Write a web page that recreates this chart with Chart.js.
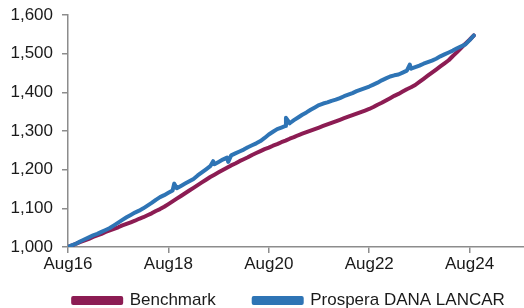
<!DOCTYPE html>
<html>
<head>
<meta charset="utf-8">
<script src="https://cdn.jsdelivr.net/npm/chart.js@4.4.1/dist/chart.umd.min.js"></script>
<style>
  html, body { margin: 0; padding: 0; background: #fff; }
  #wrap { width: 524px; height: 308px; }
</style>
</head>
<body>
<div id="wrap"><canvas id="chart"></canvas></div>
<script>
	// months since Aug16, one point per month (Aug16 .. Sep24)
	var months = [];
	for (var i = 0; i <= 97; i++) { months.push(i); }

	var tickMonths = [0, 24, 48, 72, 96];
	var tickLabels = ['Aug16', 'Aug18', 'Aug20', 'Aug22', 'Aug24'];

	var benchmark = [
		1000, 1004, 1009, 1013, 1017, 1021, 1026, 1030, 1034, 1039,
		1043, 1047, 1051, 1056, 1060, 1064, 1068, 1073, 1077, 1082,
		1087, 1093, 1098, 1104, 1111, 1118, 1125, 1132, 1139, 1146,
		1153, 1160, 1167, 1174, 1181, 1187, 1193, 1199, 1205, 1211,
		1216, 1222, 1227, 1232, 1238, 1243, 1248, 1253, 1257, 1262,
		1266, 1271, 1275, 1280, 1284, 1289, 1293, 1297, 1301, 1305,
		1309, 1313, 1317, 1321, 1325, 1329, 1333, 1337, 1341, 1345,
		1349, 1353, 1357, 1362, 1368, 1373, 1379, 1385, 1391, 1396,
		1402, 1408, 1413, 1419, 1427, 1435, 1443, 1451, 1459, 1467,
		1475, 1483, 1494, 1504, 1515, 1526, 1536, 1547
	];

	var danaLancar = [
		1000, 1005, 1009, 1015, 1020, 1025, 1030, 1034, 1039, 1044,
		1049, 1056, 1063, 1070, 1077, 1083, 1089, 1094, 1100, 1107,
		1114, 1122, 1129, 1134, 1140, 1146, 1152, 1158, 1164, 1170,
		1176, 1185, 1193, 1201, 1209, 1214, 1220, 1226, 1231, 1237,
		1242, 1247, 1252, 1258, 1263, 1268, 1274, 1282, 1291, 1298,
		1305, 1309, 1313, 1320, 1328, 1335, 1342, 1348, 1355, 1361,
		1367, 1371, 1374, 1378, 1381, 1385, 1390, 1394, 1398, 1403,
		1407, 1411, 1415, 1420, 1425, 1431, 1436, 1441, 1444, 1446,
		1451, 1456, 1461, 1465, 1469, 1474, 1478, 1482, 1487, 1493,
		1498, 1503, 1508, 1514, 1519, 1524, 1535, 1547
	];

	// one-day glitches in the fund line
	var spikeMonths = [25.4, 34.7, 38.3, 52.1, 81.7];
	var spikeValues = [1164, 1222, 1220, 1334, 1472];

	function toPoints(xs, ys)
	{
		var pts = [];
		for (var i = 0; i < xs.length; i++) { pts.push({x: xs[i], y: ys[i]}); }
		return pts;
	}

	var fundPoints = toPoints(months, danaLancar).concat(toPoints(spikeMonths, spikeValues));
	fundPoints.sort(function (a, b) { return a.x - b.x; });

	var axisColor = '#8c8c8c';
	var font = { family: 'Liberation Sans, Arial, sans-serif', size: 17 };

	new Chart(document.getElementById('chart'), {
		type: 'line',
		data: {
			datasets: [{
				label: 'Benchmark',
				data: toPoints(months, benchmark),
				borderColor: '#8c1c53',
				backgroundColor: '#8c1c53',
				borderWidth: 4,
				order: 1
			}, {
				label: 'Prospera DANA LANCAR',
				data: fundPoints,
				borderColor: '#2e74b5',
				backgroundColor: '#2e74b5',
				borderWidth: 4,
				order: 0
			}]
		},
		options: {
			responsive: true,
			maintainAspectRatio: false,
			animation: false,
			layout: { padding: { left: 0, right: 0, top: 15, bottom: -11 } },
			elements: {
				point: { radius: 0 },
				line: { tension: 0, borderJoinStyle: 'round', borderCapStyle: 'round' }
			},
			plugins: {
				tooltip: { enabled: false },
				legend: {
					position: 'bottom',
					align: 'end',
					labels: {
						boxWidth: 48,
						boxHeight: 5,
						padding: 5,
						color: '#1a1a1a',
						font: font,
						sort: function (a, b) { return a.datasetIndex - b.datasetIndex; },
						// trailing blanks space the two entries like the original
						generateLabels: function (chart) {
							var items = Chart.defaults.plugins.legend.labels.generateLabels(chart);
							items.forEach(function (it) {
								it.text = it.datasetIndex === 0 ? it.text + '       ' : it.text + '   ';
							});
							return items;
						}
					}
				}
			},
			scales: {
				x: {
					type: 'linear',
					min: 0,
					max: 109,
					afterBuildTicks: function (axis) {
						axis.ticks = tickMonths.map(function (m) { return { value: m }; });
					},
					afterFit: function (scale) { scale.height = 40; },
					ticks: {
						color: '#1a1a1a',
						font: font,
						padding: 1,
						maxRotation: 0,
						callback: function (v) {
							var k = tickMonths.indexOf(v);
							return k >= 0 ? tickLabels[k] : '';
						}
					},
					grid: { drawOnChartArea: false, drawTicks: true, tickLength: 6, color: axisColor, lineWidth: 1.5 },
					border: { color: axisColor, width: 1.5 }
				},
				y: {
					min: 1000,
					max: 1600,
					afterFit: function (scale) { scale.width = 68; scale.paddingTop = 0; },
					ticks: {
						stepSize: 100,
						color: '#1a1a1a',
						font: font,
						padding: 9,
						callback: function (v) { return v.toLocaleString('en-US'); }
					},
					grid: { drawOnChartArea: false, drawTicks: true, tickLength: 6, color: axisColor, lineWidth: 1.5 },
					border: { color: axisColor, width: 1.5 }
				}
			}
		}
	});
</script>
</body>
</html>
